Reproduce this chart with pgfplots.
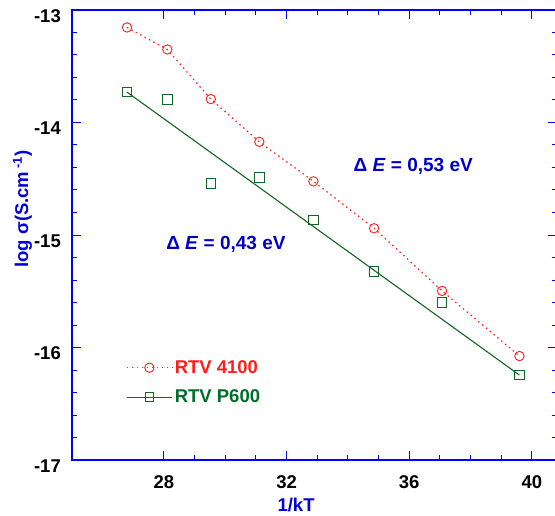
\documentclass[border=0pt]{standalone}
\usepackage{fontspec}
\setmainfont{Liberation Sans}
\usepackage{pgfplots}
\pgfplotsset{compat=1.18}
\definecolor{cred}{RGB}{255,30,30}
\definecolor{cgreen}{RGB}{20,100,35}
\definecolor{cgtext}{RGB}{0,110,40}
\definecolor{caxis}{RGB}{0,0,255}
\definecolor{clabel}{RGB}{0,0,220}
\definecolor{cann}{RGB}{0,0,200}
\begin{document}
\begin{tikzpicture}
\begin{axis}[
  scale only axis, width=485pt, height=450pt,
  xmin=25, xmax=40.82, ymin=-17, ymax=-13,
  axis line style={caxis, line width=1.5pt},
  every tick/.style={caxis, line width=1pt},
  major tick length=9pt, minor tick length=5.5pt,
  tick align=inside,
  xtick={28,32,36,40}, xticklabels={28,32,36,40}, minor x tick num=3,
  ytick={-17,-16,-15,-14,-13}, yticklabels={-17,-16,-15,-14,-13}, minor y tick num=4,
  tick label style={font=\fontsize{18.5}{21}\selectfont\bfseries, black},
  xticklabel style={anchor=base, yshift=-28pt},
  yticklabel style={anchor=east, inner sep=0pt, xshift=-11pt, yshift=-6pt},
  xlabel={1/kT},
  ylabel={log σ(S.cm\,\textsuperscript{-1})},
  label style={font=\fontsize{18.5}{21}\selectfont\bfseries, clabel},
  xlabel style={at={(axis description cs:0.462,-0.1)}, anchor=center},
  ylabel style={at={(axis description cs:-0.102,0.558)}, anchor=center},
  legend style={draw=none, fill=none, inner sep=0pt, at={(axis description cs:0.111,0.226)}, anchor=north west,
    font=\fontsize{18.5}{21}\selectfont\bfseries, row sep=11pt},
  legend cell align=left,
  legend image code/.code={\draw[mark repeat=2,mark phase=2,#1] plot coordinates {(0cm,0cm)(0.8cm,0cm)(1.6cm,0cm)};},
]
\addplot[cred, dash pattern=on 1.5pt off 3.5pt, line width=1.2pt, mark=o, mark size=4.7pt, mark options={solid, line width=0.9pt}]
  coordinates {(26.794,-13.155)(28.109,-13.351)(29.529,-13.792)(31.111,-14.172)(32.873,-14.523)(34.853,-14.940)(37.072,-15.497)(39.594,-16.076)};
\addlegendentry{\textcolor{cred}{RTV 4100}}
\addplot[cgreen, only marks, mark=square, mark size=4.8pt, mark options={line width=0.9pt}, forget plot]
  coordinates {(26.794,-13.730)(28.109,-13.795)(29.529,-14.543)(31.111,-14.486)(32.873,-14.866)(34.853,-15.326)(37.072,-15.601)(39.594,-16.245)};
\addplot[cgreen, line width=1.1pt, forget plot] coordinates {(26.794,-13.730)(39.594,-16.245)};
\addlegendimage{cgreen, line width=1.1pt, mark=square, mark size=4.3pt, mark options={line width=0.9pt}}
\addlegendentry{\textcolor{cgtext}{RTV P600}}
\node[font=\fontsize{19}{22}\selectfont\bfseries, cann] at (axis cs:36.13,-14.39) {Δ \textit{E} = 0,53 eV};
\node[font=\fontsize{19}{22}\selectfont\bfseries, cann] at (axis cs:30.02,-15.08) {Δ \textit{E} = 0,43 eV};
\coordinate (ll) at (rel axis cs:0,0);
\coordinate (ur) at (rel axis cs:1,1);
\end{axis}
\pgfresetboundingbox
\path[use as bounding box] ([shift={(-72pt,-55pt)}]ll) rectangle ([shift={(-2pt,10pt)}]ur);
\end{tikzpicture}
\end{document}
